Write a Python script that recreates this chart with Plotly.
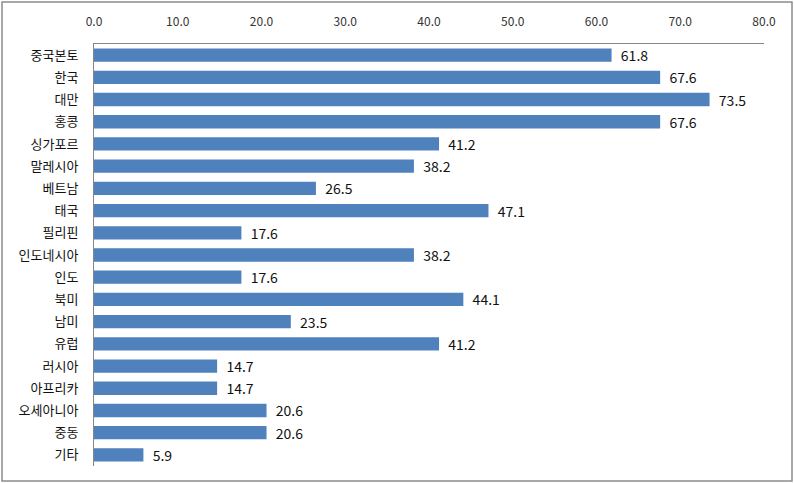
import plotly.graph_objects as go

regions = ['중국본토', '한국', '대만', '홍콩', '싱가포르', '말레시아', '베트남', '태국', '필리핀',
           '인도네시아', '인도', '북미', '남미', '유럽', '러시아', '아프리카', '오세아니아', '중동', '기타']
values = [61.8, 67.6, 73.5, 67.6, 41.2, 38.2, 26.5, 47.1, 17.6,
          38.2, 17.6, 44.1, 23.5, 41.2, 14.7, 14.7, 20.6, 20.6, 5.9]
ticks = [0, 10, 20, 30, 40, 50, 60, 70, 80]

W, H = 794, 483
L, R, T, B = 94, 30, 44, 17

fig = go.Figure()
fig.add_trace(go.Bar(
    y=regions,
    x=values,
    orientation='h',
    marker=dict(color='#4F81BD', line=dict(width=0)),
    text=[f'\u00a0\u00a0{v:.1f}' for v in values],
    textposition='outside',
    constraintext='none',
    textfont=dict(size=14, color='#111111'),
    cliponaxis=False,
))

# outer frame around the whole chart
pw = W - L - R
ph = H - T - B
fig.add_shape(type='rect', xref='paper', yref='paper',
              x0=(2 - L) / pw, x1=(792 - L) / pw,
              y0=(H - 481 - B) / ph, y1=(H - 2 - B) / ph,
              line=dict(color='#8c8c8c', width=1.5))

fig.update_layout(
    width=W, height=H,
    margin=dict(l=L, r=R, t=T, b=B, autoexpand=False),
    plot_bgcolor='white',
    paper_bgcolor='white',
    font=dict(family='Noto Sans CJK KR', color='#222222'),
    showlegend=False,
    bargap=0.4,
    xaxis=dict(
        side='top',
        range=[0, 80],
        tickvals=ticks,
        ticktext=[f'{t:.1f}' for t in ticks],
        tickfont=dict(size=12, family='Noto Sans CJK KR', color='#333333'),
        showgrid=False,
        zeroline=False,
        showline=True,
        linecolor='#868686',
        linewidth=1,
        ticks='',
        ticklabelstandoff=12,
        automargin=False,
    ),
    yaxis=dict(
        autorange='reversed',
        tickfont=dict(size=13, family='Noto Sans CJK KR', color='#111111'),
        showgrid=False,
        showline=True,
        linecolor='#868686',
        linewidth=1,
        ticks='',
        ticklabelstandoff=12,
        automargin=False,
    ),
)

fig.write_html('out.html', config={'displayModeBar': False},
               post_script="document.body.style.margin='0';")
